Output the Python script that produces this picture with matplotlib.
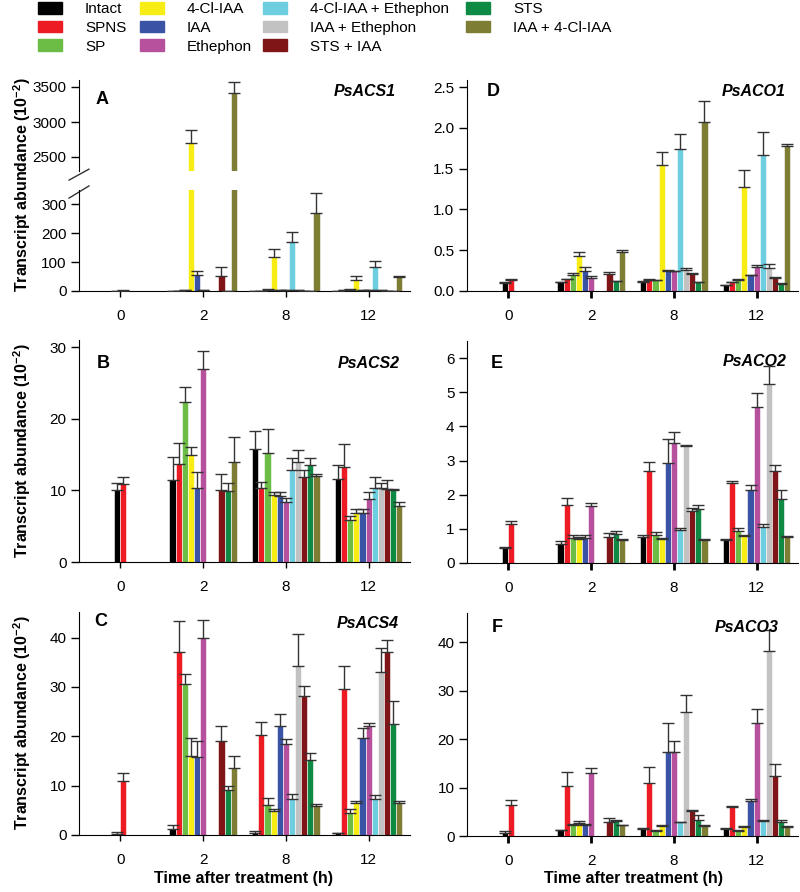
import numpy as np
import matplotlib
matplotlib.use('Agg')
import matplotlib.pyplot as plt
from matplotlib.patches import Patch

plt.rcParams['font.family'] = ['Liberation Sans', 'DejaVu Sans']
plt.rcParams['mathtext.fontset'] = 'custom'
plt.rcParams['mathtext.rm'] = 'Liberation Sans'
plt.rcParams['mathtext.bf'] = 'Liberation Sans:bold'

nan = np.nan

times = ['0', '2', '8', '12']
treatments = ['Intact', 'SPNS', 'SP', '4-Cl-IAA', 'IAA', 'Ethephon',
              '4-Cl-IAA + Ethephon', 'IAA + Ethephon', 'STS + IAA', 'STS',
              'IAA + 4-Cl-IAA']
colors = ['#000000', '#ed1c24', '#6cbd45', '#f7ec13', '#3a53a4', '#b7519d',
          '#6dcee0', '#c2c2c2', '#7f1517', '#0f8a45', '#7e7d34']

# rows = time (0, 2, 8, 12 h), columns = treatments
acs1 = [[0.5, 1, nan, nan, nan, nan, nan, nan, nan, nan, nan],
        [0.5, 1, 2, 2700, 55, 2, nan, nan, 52, 1, 3410],
        [1, 1, 3, 119, 2, 2, 171, 2, 1, 1, 272],
        [1, 2, 5, 38, 2, 2, 82, 2, 1, 1, 50]]
acs1_err = [[0.5, 1, nan, nan, nan, nan, nan, nan, nan, nan, nan],
            [0, 0, 0, 180, 15, 0, nan, nan, 30, 0, 155],
            [0, 0, 3, 25, 0, 0, 32, 0, 0, 0, 68],
            [0, 0, 2, 15, 0, 0, 23, 0, 0, 0, 3]]

acs2 = [[10.1, 10.9, nan, nan, nan, nan, nan, nan, nan, nan, nan],
        [11.4, 13.7, 22.4, 14.9, 10.3, 27.0, nan, nan, 10.0, 9.9, 14.0],
        [15.8, 10.3, 15.2, 9.3, 9.2, 8.4, 12.9, 13.9, 11.9, 13.5, 12.0],
        [11.6, 13.2, 5.9, 6.8, 6.9, 8.8, 10.3, 10.3, 10.2, 10.0, 7.8]]
acs2_err = [[0.9, 1.0, nan, nan, nan, nan, nan, nan, nan, nan, nan],
            [3.3, 2.9, 2.1, 1.2, 2.3, 2.4, nan, nan, 2.3, 1.1, 3.5],
            [2.5, 0.9, 3.4, 0.5, 0.6, 0.6, 1.6, 1.7, 0.9, 1.0, 0.3],
            [1.9, 3.3, 0.5, 0.6, 0.5, 1.0, 1.6, 0.8, 1.2, 0.2, 0.6]]

acs4 = [[0.3, 11.0, nan, nan, nan, nan, nan, nan, nan, nan, nan],
        [1.3, 37.0, 30.7, 16.1, 15.8, 40.0, nan, nan, 19.1, 9.2, 13.6],
        [0.5, 20.2, 6.1, 4.9, 22.0, 18.5, 7.3, 34.3, 28.2, 15.2, 5.9],
        [0.4, 29.6, 4.4, 6.5, 19.7, 22.1, 7.3, 33.1, 37.0, 22.6, 6.4]]
acs4_err = [[0.3, 1.5, nan, nan, nan, nan, nan, nan, nan, nan, nan],
            [0.7, 6.3, 1.9, 3.6, 3.2, 3.5, nan, nan, 2.9, 0.7, 2.5],
            [0.3, 2.7, 1.4, 0.3, 2.5, 1.0, 1.1, 6.4, 1.9, 1.4, 0.3],
            [0.1, 4.7, 0.9, 0.4, 1.9, 0.7, 0.8, 4.8, 2.6, 4.5, 0.4]]

aco1 = [[0.095, 0.136, nan, nan, nan, nan, nan, nan, nan, nan, nan],
        [0.107, 0.144, 0.20, 0.428, 0.247, 0.16, nan, nan, 0.206, 0.123, 0.473],
        [0.115, 0.14, 0.136, 1.543, 0.251, 0.239, 1.737, 0.255, 0.206, 0.107, 2.066],
        [0.07, 0.111, 0.14, 1.276, 0.193, 0.292, 1.663, 0.288, 0.165, 0.09, 1.778]]
aco1_err = [[0.02, 0.016, nan, nan, nan, nan, nan, nan, nan, nan, nan],
            [0, 0.005, 0.026, 0.049, 0.053, 0.025, nan, nan, 0.029, 0.003, 0.025],
            [0.013, 0.003, 0.003, 0.161, 0.003, 0.005, 0.189, 0.025, 0.016, 0.003, 0.267],
            [0.003, 0.005, 0.012, 0.201, 0.003, 0.021, 0.288, 0.049, 0.003, 0.003, 0.029]]

aco2 = [[0.43, 1.13, nan, nan, nan, nan, nan, nan, nan, nan, nan],
        [0.55, 1.69, 0.74, 0.71, 0.74, 1.68, nan, nan, 0.77, 0.86, 0.66],
        [0.76, 2.70, 0.83, 0.71, 2.92, 3.52, 0.98, 3.42, 1.53, 1.59, 0.66],
        [0.68, 2.33, 0.93, 0.79, 2.13, 4.57, 1.04, 5.25, 2.68, 1.87, 0.77]]
aco2_err = [[0.04, 0.09, nan, nan, nan, nan, nan, nan, nan, nan, nan],
            [0.09, 0.21, 0.08, 0.06, 0.09, 0.08, nan, nan, 0.10, 0.07, 0.05],
            [0.06, 0.25, 0.08, 0.02, 0.72, 0.33, 0.05, 0.03, 0.08, 0.12, 0.05],
            [0.01, 0.08, 0.09, 0.03, 0.15, 0.42, 0.09, 0.51, 0.18, 0.28, 0.02]]

aco3 = [[0.6, 6.3, nan, nan, nan, nan, nan, nan, nan, nan, nan],
        [1.2, 10.4, 2.3, 2.6, 2.3, 13.0, nan, nan, 2.9, 3.1, 2.2],
        [1.5, 11.0, 1.1, 2.1, 17.3, 17.4, 2.8, 25.6, 5.1, 3.3, 2.1],
        [1.5, 5.9, 1.1, 1.9, 7.3, 23.4, 3.0, 38.1, 12.4, 2.8, 1.9]]
aco3_err = [[0.4, 1.1, nan, nan, nan, nan, nan, nan, nan, nan, nan],
            [0.1, 2.9, 0.1, 0.4, 0.1, 1.0, nan, nan, 0.9, 0.3, 0.1],
            [0.1, 3.2, 0.1, 0.1, 6.1, 2.1, 0.1, 3.4, 0.3, 1.0, 0.1],
            [0.1, 0.3, 0.1, 0.2, 0.3, 2.7, 0.4, 4.4, 2.4, 0.4, 0.1]]

W = 0.074  # width of one bar slot (category units)
FW, FH = 800, 892


def draw_bars(ax, means, errs):
    for t in range(len(times)):
        if t == 0:
            offs = [-0.5, 0.5] + [0] * 9
        else:
            offs = list(np.arange(11) - 5)
        for k in range(len(treatments)):
            m = means[t][k]
            if np.isnan(m):
                continue
            x = t + offs[k] * W
            ax.bar(x, m, W, color=colors[k], edgecolor='white', linewidth=0.4, zorder=2)
            ax.errorbar(x, m, yerr=[[0], [errs[t][k]]], fmt='none', ecolor='#333333',
                        elinewidth=1, capsize=4.3, capthick=1, zorder=3)


def style(ax, ylim, yticks, fmt, right, xaxis=True):
    ax.set_xlim(-0.5, 3.5)
    ax.set_ylim(*ylim)
    ax.set_yticks(yticks)
    ax.set_yticklabels([fmt.format(v) for v in yticks])
    ax.spines[['top', 'right']].set_visible(False)
    ax.tick_params(axis='y', length=6, width=1, pad=3, labelsize=11)
    if xaxis:
        ax.set_xticks(range(4))
        ax.set_xticklabels(times)
        ax.tick_params(axis='x', length=5 if right else 4, width=2 if right else 1,
                       pad=8 if right else 9, labelsize=11)


def rect(x0, y_top, w, y_bot):
    return [x0 / FW, 1 - y_bot / FH, w / FW, (y_bot - y_top) / FH]


fig = plt.figure(figsize=(8, 8.92), dpi=100)

LX, RX, PW = 79, 467, 331

# A: broken axis
axA_hi = fig.add_axes(rect(LX, 80, PW, 171))
axA_lo = fig.add_axes(rect(LX, 190, PW, 291))
for ax in (axA_hi, axA_lo):
    draw_bars(ax, acs1, acs1_err)
style(axA_hi, (2300, 3600), [2500, 3000, 3500], '{:d}', False, xaxis=False)
axA_hi.spines['bottom'].set_visible(False)
axA_hi.set_xticks([])
style(axA_lo, (0, 350), [0, 100, 200, 300], '{:d}', False)
kw = dict(color='#333333', lw=1, clip_on=False)
axA_hi.plot([-0.03, 0.03], [-0.1, 0.02], transform=axA_hi.transAxes, **kw)
axA_lo.plot([-0.03, 0.03], [0.92, 1.04], transform=axA_lo.transAxes, **kw)

axB = fig.add_axes(rect(LX, 340, PW, 562))
draw_bars(axB, acs2, acs2_err)
style(axB, (0, 31), [0, 10, 20, 30], '{:d}', False)

axC = fig.add_axes(rect(LX, 612, PW, 835))
draw_bars(axC, acs4, acs4_err)
style(axC, (0, 45.2), [0, 10, 20, 30, 40], '{:d}', False)

axD = fig.add_axes(rect(RX, 80, PW, 291))
draw_bars(axD, aco1, aco1_err)
style(axD, (0, 2.586), [0, 0.5, 1.0, 1.5, 2.0, 2.5], '{:.1f}', True)

axE = fig.add_axes(rect(RX, 341, PW, 563))
draw_bars(axE, aco2, aco2_err)
style(axE, (0, 6.5), [0, 1, 2, 3, 4, 5, 6], '{:d}', True)

axF = fig.add_axes(rect(RX, 613, PW, 836))
draw_bars(axF, aco3, aco3_err)
style(axF, (0, 46), [0, 10, 20, 30, 40], '{:d}', True)

# panel letters and gene names
letters = [('A', 102, 100), ('D', 493, 92), ('B', 103, 363),
           ('E', 497, 363), ('C', 101, 622), ('F', 497, 627)]
for s, x, y in letters:
    fig.text(x / FW, 1 - y / FH, s, fontsize=13, fontweight='bold', ha='center', va='center')
genes = [('PsACS1', 396, 91), ('PsACO1', 786, 91), ('PsACS2', 400, 363),
         ('PsACO2', 787, 362), ('PsACS4', 399, 623), ('PsACO3', 779, 628)]
for s, x, y in genes:
    fig.text(x / FW, 1 - y / FH, s, fontsize=11.5, fontweight='bold', style='italic',
             ha='right', va='center')

ylab = r'Transcript abundance (10$^{\mathbf{-2}}$)'
for yc in (185, 451, 723):
    fig.text(22 / FW, 1 - yc / FH, ylab, rotation=90, fontsize=11.5, fontweight='bold',
             ha='center', va='center')
for xc in (243, 633):
    fig.text(xc / FW, 1 - 879 / FH, 'Time after treatment (h)', fontsize=11.5,
             fontweight='bold', ha='center', va='center')

# legend: 4 columns
handles = [Patch(facecolor=c, edgecolor=c) for c in colors]
cols = [(38, [0, 1, 2]), (140, [3, 4, 5]), (263, [6, 7, 8]), (466, [9, 10])]
for x, idx in cols:
    fig.legend([handles[i] for i in idx], [treatments[i] for i in idx],
               loc='upper left', bbox_to_anchor=(x / FW, 1 - 2 / FH),
               frameon=False, fontsize=11, handlelength=1.57, handleheight=0.8,
               handletextpad=1.5, labelspacing=0.3, borderpad=0, borderaxespad=0)

fig.savefig('out.png', dpi=100)
